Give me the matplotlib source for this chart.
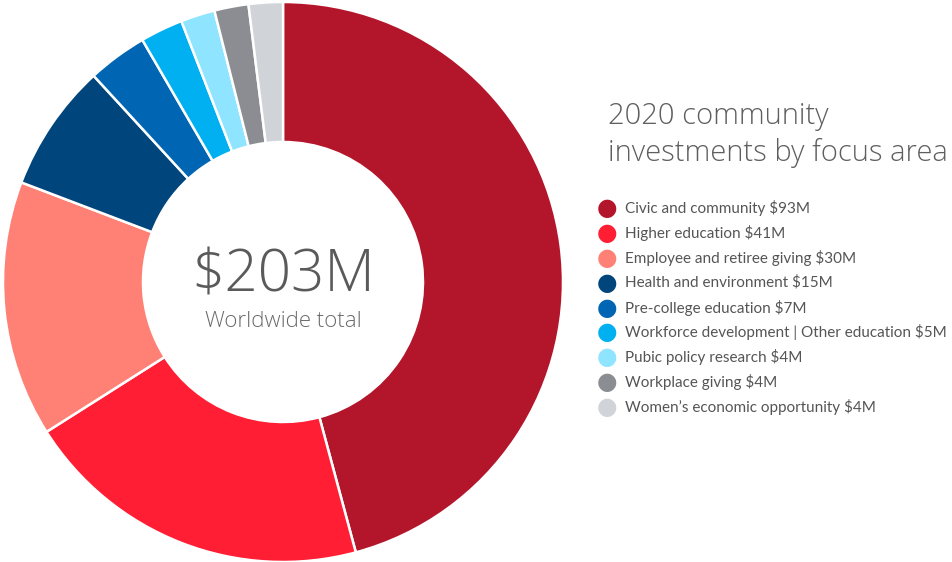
import matplotlib.pyplot as plt

# focus areas and amounts ($M)
labels = ['Civic and community', 'Higher education', 'Employee and retiree giving',
          'Health and environment', 'Pre-college education',
          'Workforce development | Other education', 'Pubic policy research',
          'Workplace giving', 'Women\u2019s economic opportunity']
amounts = [93, 41, 30, 15, 7, 5, 4, 4, 4]
colors = ['#B3152B', '#FF1E34', '#FF8176', '#00457C', '#0066B3',
          '#00B0F0', '#8FE4FF', '#8C8D92', '#D0D3D8']

total_text = '$203M'
sub_text = 'Worldwide total'
title_lines = ['2020 community', 'investments by focus area']

W, H = 953, 562
fig = plt.figure(figsize=(W / 100, H / 100), dpi=100)

# donut, centre ~ (283, 282) px, radius ~280 px
cx, cy, r = 283, 282, 280
ax = fig.add_axes([(cx - r) / W, (H - cy - r) / H, 2 * r / W, 2 * r / H])
ax.pie(amounts, colors=colors, startangle=90, counterclock=False, radius=1,
       wedgeprops=dict(width=0.5, edgecolor='white', linewidth=1.8))
ax.set_xlim(-1, 1)
ax.set_ylim(-1, 1)
ax.set_aspect('equal')
ax.axis('off')

ax.text(0, 0.02, total_text, ha='center', va='center', fontsize=42,
        family='Open Sans', fontweight=300, color='#5a5a5a')
ax.text(0, -0.14, sub_text, ha='center', va='center', fontsize=16,
        family='Open Sans', fontweight=300, color='#6a6a6a')

# title
for i, line in enumerate(title_lines):
    fig.text(608 / W, 1 - (116 + i * 37) / H, line, ha='left', va='center',
             fontsize=21, family='Open Sans', fontweight=300, color='#5f5f5f')

# legend
y0, dy = 208, 24.9
for i, (lab, amt, c) in enumerate(zip(labels, amounts, colors)):
    y = 1 - (y0 + i * dy) / H
    fig.text(607 / W, y, '\u25CF', ha='center', va='center', fontsize=17,
             color=c, family='DejaVu Sans')
    fig.text(625 / W, y, f'{lab} ${amt}M', ha='left', va='center',
             fontsize=10.95, family='Lato', color='#555555')

fig.savefig('out.png', dpi=100, facecolor='white')
